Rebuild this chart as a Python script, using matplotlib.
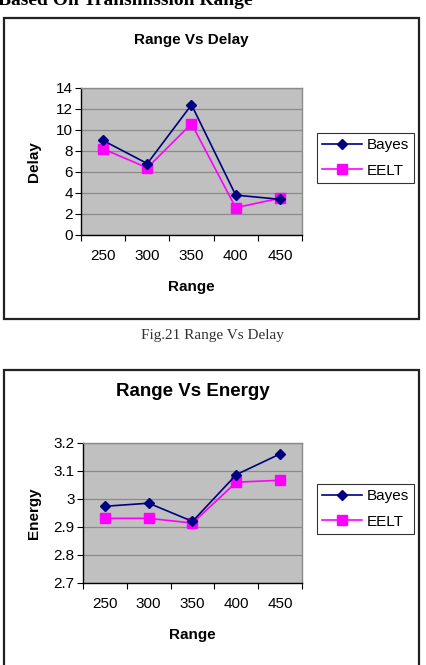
import numpy as np
import matplotlib.pyplot as plt
from matplotlib.patches import Rectangle

# data
ranges = ["250", "300", "350", "400", "450"]
delay_bayes = [9.0, 6.8, 12.4, 3.8, 3.4]
delay_eelt = [8.2, 6.4, 10.6, 2.6, 3.5]
energy_bayes = [2.974, 2.985, 2.92, 3.087, 3.161]
energy_eelt = [2.931, 2.931, 2.914, 3.06, 3.067]

W, H = 427, 665
plt.rcParams["font.family"] = ["Liberation Sans", "DejaVu Sans"]

fig = plt.figure(figsize=(W / 100, H / 100), dpi=100)
fig.patch.set_facecolor("white")


def fx(px):
    return px / W


def fy(py):
    return 1 - py / H


def chart(box_top, box_bottom, ax_rect, title, title_y, title_size,
          ylabel, ylim, yticks, yfmt, b_vals, e_vals, xlabel_y, leg_top):
    # outer chart border
    fig.add_artist(Rectangle((fx(4), fy(box_bottom)), fx(415), (box_bottom - box_top) / H,
                             transform=fig.transFigure, fill=False,
                             edgecolor="#222222", linewidth=1.6))
    l, t, r, b = ax_rect
    ax = fig.add_axes([fx(l), fy(b), fx(r - l), (b - t) / H])
    ax.set_facecolor("#c0c0c0")
    x = np.arange(1, len(ranges) + 1)
    ax.plot(x, b_vals, color="#000080", marker="D", markersize=5.5, linewidth=1.2,
            label="Bayes", zorder=3)
    ax.plot(x, e_vals, color="#ff00ff", marker="s", markersize=7, linewidth=1.2,
            label="EELT", zorder=2)
    ax.set_xlim(0.5, len(ranges) + 0.5)
    ax.set_ylim(*ylim)
    ax.set_yticks(yticks)
    ax.set_yticklabels([yfmt(v) for v in yticks], fontsize=11)
    ax.yaxis.grid(True, color="#8a8a8a", linewidth=0.9)
    ax.set_axisbelow(True)
    # category boundaries carry the tick marks, labels sit at the centres
    ax.set_xticks(np.arange(0.5, len(ranges) + 1))
    ax.set_xticklabels([])
    ax.set_xticks(x, minor=True)
    ax.set_xticklabels(ranges, minor=True, fontsize=11)
    ax.tick_params(axis="x", which="major", direction="out", length=4, color="black")
    ax.tick_params(axis="x", which="minor", length=0, pad=10)
    ax.tick_params(axis="y", direction="out", length=4, pad=2)
    for s in ("left", "bottom"):
        ax.spines[s].set_color("black")
        ax.spines[s].set_linewidth(1.0)
    for s in ("top", "right"):
        ax.spines[s].set_color("#8a8a8a")
        ax.spines[s].set_linewidth(1.0)
    fig.text(fx((l + r) / 2), fy(title_y), title, ha="center", va="center",
             fontsize=title_size, fontweight="bold")
    fig.text(fx((l + r) / 2), fy(xlabel_y), "Range", ha="center", va="center",
             fontsize=11, fontweight="bold")
    fig.text(fx(34), fy((t + b) / 2), ylabel, ha="center", va="center",
             rotation=90, fontsize=11, fontweight="bold")
    leg = fig.legend(*ax.get_legend_handles_labels(), loc="upper left",
                     bbox_to_anchor=(fx(317), fy(leg_top)), borderaxespad=0,
                     fontsize=11, frameon=True, fancybox=False, handlelength=2.6,
                     handletextpad=0.3, borderpad=0.35, labelspacing=0.75)
    leg.get_frame().set_edgecolor("black")
    leg.get_frame().set_linewidth(0.8)
    return ax


# page fragments around the charts
fig.text(fx(-2), fy(5), "Based On Transmission Range", ha="left", va="baseline",
         fontsize=14, fontweight="bold", family=["Liberation Serif", "DejaVu Serif"])
fig.text(fx(212), fy(335), "Fig.21 Range Vs Delay", ha="center", va="center",
         fontsize=11, color="#333333", family=["Liberation Serif", "DejaVu Serif"])

chart(18, 319, (81, 88, 302, 235), "Range Vs Delay", 40, 11, "Delay",
      (0, 14), np.arange(0, 15, 2), lambda v: "%d" % v,
      delay_bayes, delay_eelt, 287, 133)

chart(370, 667, (83, 443, 302, 583), "Range Vs Energy", 392, 13.5, "Energy",
      (2.7, 3.2), [2.7, 2.8, 2.9, 3.0, 3.1, 3.2], lambda v: "%g" % round(v, 1),
      energy_bayes, energy_eelt, 635, 484)

plt.savefig("out.png", dpi=100)
